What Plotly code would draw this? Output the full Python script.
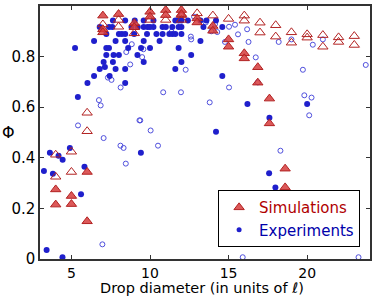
import plotly.graph_objects as go

# Simulations (red triangles)
sim_filled_x = [4, 4, 5, 5, 6, 6, 7, 7, 7, 8, 9, 9, 10, 10, 11, 11, 12, 12, 13, 13,
                14, 14, 15, 15, 16, 16, 16.86, 16.86, 17.6, 17.6, 18.6, 18.6]
sim_filled_y = [0.275, 0.215, 0.249, 0.217, 0.344, 0.149, 0.962, 0.908, 0.896, 0.968,
                0.932, 0.916, 0.977, 0.958, 0.984, 0.964, 0.984, 0.968, 0.951, 0.935,
                0.921, 0.902, 0.868, 0.839, 0.813, 0.793, 0.758, 0.697, 0.634, 0.536,
                0.357, 0.283]
sim_open_x = [4, 4, 5, 5, 6, 6, 7, 8, 8, 9, 10, 11, 12, 12, 13, 14, 15, 16, 16,
              17, 17, 18, 18, 19, 19, 20, 20, 21, 21, 22, 22, 23, 23]
sim_open_y = [0.412, 0.325, 0.424, 0.344, 0.578, 0.505, 0.927, 0.945, 0.918, 0.892,
              0.945, 0.945, 0.964, 0.945, 0.971, 0.962, 0.949, 0.962, 0.942,
              0.934, 0.895, 0.924, 0.879, 0.896, 0.855, 0.888, 0.875, 0.885, 0.839,
              0.876, 0.858, 0.881, 0.846]

# Experiments (blue circles)
exp_filled_x = [
    7.64, 8.42, 9.03, 9.60, 10.22, 11.61, 11.82, 12.0, 12.41, 13.21, 13.59, 14.2,
    6.80, 7.39, 7.60, 8.82, 9.22, 9.60, 9.84, 10.0, 10.22, 10.80, 11.01, 11.42, 11.82, 12.0, 13.40, 14.6,
    7.22, 8.02, 8.21, 8.42, 8.99, 9.81, 10.41, 10.80, 11.23, 11.42, 11.61, 12.0,
    6.44, 7.81, 8.42, 9.60, 10.61, 13.21,
    5.23, 7.22, 7.39, 8.61, 9.43, 10.0, 11.82,
    7.22, 7.68, 8.02, 9.20, 12.62,
    7.05, 7.64, 9.60, 12.0,
    6.80, 7.13, 7.81, 8.42, 11.61,
    6.44, 7.43, 14.6,
    6.02, 8.42,
    5.41, 16.2, 20.0, 17.6, 14.2,
    3.63, 4.90, 4.18, 4.44, 5.83, 9.42, 3.25, 3.82, 5.61, 3.42, 4.43, 17.58, 17.98, 15.2]
exp_filled_y = [
    0.943, 0.943, 0.943, 0.943, 0.943, 0.943, 0.943, 0.943, 0.943, 0.943, 0.943, 0.943,
    0.917, 0.917, 0.917, 0.917, 0.917, 0.917, 0.917, 0.917, 0.917, 0.917, 0.917, 0.917, 0.917, 0.917, 0.917, 0.917,
    0.889, 0.889, 0.889, 0.889, 0.889, 0.889, 0.889, 0.889, 0.889, 0.889, 0.889, 0.889,
    0.862, 0.862, 0.862, 0.862, 0.862, 0.862,
    0.834, 0.834, 0.834, 0.834, 0.834, 0.834, 0.834,
    0.806, 0.806, 0.806, 0.806, 0.806,
    0.779, 0.779, 0.779, 0.779,
    0.751, 0.759, 0.751, 0.751, 0.751,
    0.723, 0.723, 0.723,
    0.696, 0.696,
    0.640, 0.613, 0.613, 0.558, 0.503,
    0.420, 0.439, 0.408, 0.392, 0.365, 0.420, 0.348, 0.337, 0.256, 0.036, 0.007, 0.339, 0.283, 0.062]
exp_open_x = [5.42, 6.75, 6.86, 7.05, 7.32, 7.55, 8.12, 8.32, 8.13, 8.49, 8.74, 8.84,
              9.33, 9.38, 9.50, 9.58, 10.04, 10.51, 10.84, 11.97, 12.27, 11.37, 12.0,
              8.46, 6.97, 12.8, 13.55, 12.6, 12.62, 13.9, 14.28, 14.14, 15.03, 15.41,
              15.6, 16.18, 14.77, 16.27, 13.8, 15.03, 16.73, 16.86, 18.19, 19.0, 20.36,
              21.0, 19.73, 23.73, 19.82, 20.28, 20.13, 18.3, 15.9, 23.27]
exp_open_y = [0.528, 0.628, 0.607, 0.478, 0.717, 0.708, 0.448, 0.439, 0.678, 0.818, 0.769, 0.849,
              0.548, 0.548, 0.798, 0.829, 0.508, 0.448, 0.659, 0.659, 0.748, 0.898, 0.964,
              0.377, 0.058, 0.958, 0.935, 0.879, 0.868, 0.900, 0.897, 0.929, 0.918, 0.926,
              0.888, 0.908, 0.858, 0.858, 0.619, 0.678, 0.797, 0.698, 0.858, 0.868, 0.847,
              0.868, 0.748, 0.767, 0.647, 0.638, 0.568, 0.428, 0.007, 0.007]

x_ticks = [5, 10, 15, 20]
y_ticks = [0, 0.2, 0.4, 0.6, 0.8, 1]
y_tick_labels = ["0", "0.2", "0.4", "0.6", "0.8", "1"]

RED_FILL = "rgba(214,60,60,0.85)"
RED_EDGE = "#b22222"
BLUE = "#1f1fcc"
BLUE_OPEN = "#5050dd"

fig = go.Figure()
fig.add_trace(go.Scatter(x=exp_open_x, y=exp_open_y, mode="markers", showlegend=False,
                         marker=dict(symbol="circle-open", size=5, color=BLUE_OPEN,
                                     line=dict(width=1, color=BLUE_OPEN))))
fig.add_trace(go.Scatter(x=exp_filled_x, y=exp_filled_y, mode="markers", showlegend=False,
                         marker=dict(symbol="circle", size=6, color=BLUE,
                                     line=dict(width=0))))
fig.add_trace(go.Scatter(x=sim_open_x, y=sim_open_y, mode="markers", showlegend=False,
                         marker=dict(symbol="triangle-up-open", size=9, color=RED_EDGE,
                                     line=dict(width=1, color=RED_EDGE))))
fig.add_trace(go.Scatter(x=sim_filled_x, y=sim_filled_y, mode="markers", showlegend=False,
                         marker=dict(symbol="triangle-up", size=9, color=RED_FILL,
                                     line=dict(width=1, color=RED_EDGE))))
# legend entries
fig.add_trace(go.Scatter(x=[None], y=[None], mode="markers",
                         name="<span style='color:#b00000'>Simulations</span>",
                         marker=dict(symbol="triangle-up", size=9, color=RED_FILL,
                                     line=dict(width=1, color=RED_EDGE))))
fig.add_trace(go.Scatter(x=[None], y=[None], mode="markers",
                         name="<span style='color:#0000aa'>Experiments</span>",
                         marker=dict(symbol="circle", size=5, color=BLUE)))

axis_common = dict(showgrid=False, zeroline=False, showline=True, linecolor="#333",
                   linewidth=1.5, mirror="allticks", ticks="inside", ticklen=4,
                   tickcolor="#333")
fig.update_xaxes(range=[3, 24], tickvals=x_ticks, **axis_common,
                 tickfont=dict(family="DejaVu Sans", size=14, color="black"))
fig.update_yaxes(range=[0, 1], tickvals=y_ticks, ticktext=y_tick_labels, **axis_common,
                 tickfont=dict(family="DejaVu Sans", size=15, color="black"))

fig.add_annotation(text="Drop diameter (in units of ℓ)", xref="paper", yref="paper",
                   x=0.491, y=-0.155, xanchor="center", yanchor="bottom", showarrow=False,
                   font=dict(family="DejaVu Sans", size=14.5, color="black"))
fig.add_annotation(text="Φ", xref="paper", yref="paper", x=-0.095, y=0.5,
                   xanchor="center", yanchor="middle", showarrow=False,
                   font=dict(family="DejaVu Sans", size=16, color="black"))

fig.update_layout(
    width=373, height=297,
    margin=dict(l=40, r=1, t=6, b=38),
    plot_bgcolor="white", paper_bgcolor="white",
    legend=dict(x=0.97, y=0.047, xanchor="right", yanchor="bottom",
                bordercolor="black", borderwidth=1, bgcolor="white",
                font=dict(family="DejaVu Sans", size=15),
                itemwidth=30, tracegroupgap=0),
)

fig.write_html("out.html", config={"displayModeBar": False},
               post_script="document.body.style.margin='0';")
